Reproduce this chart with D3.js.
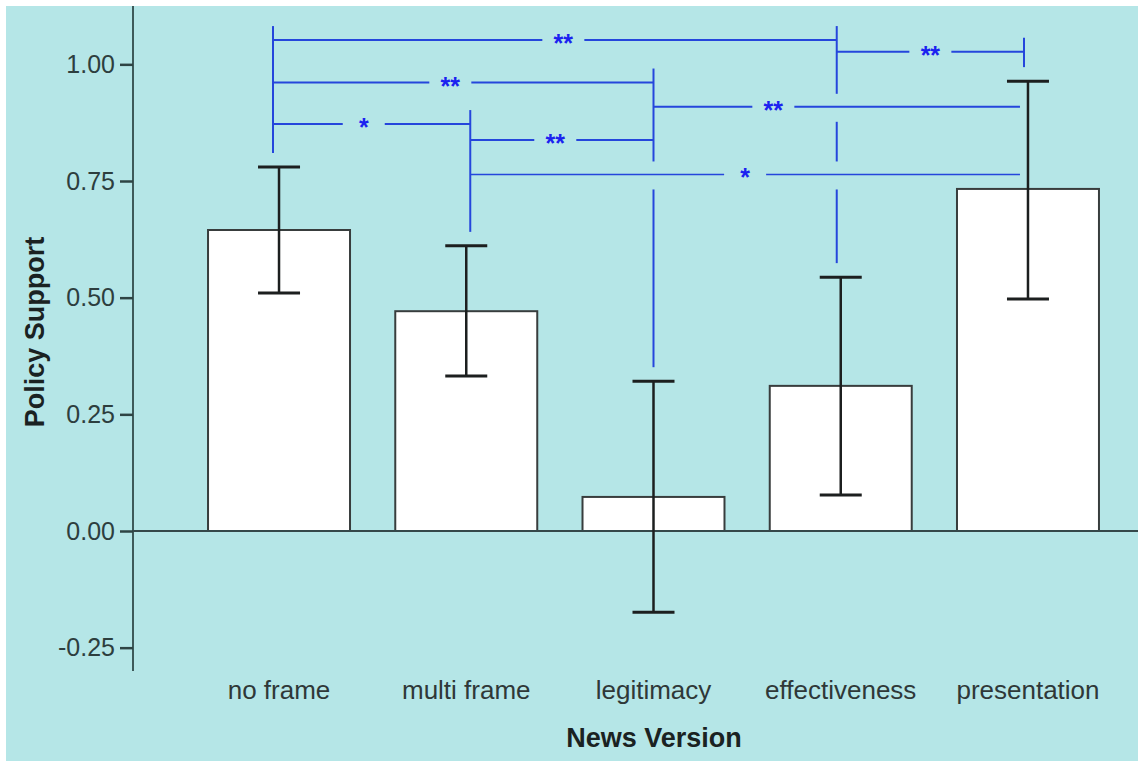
<!DOCTYPE html>
<html>
<head>
<meta charset="utf-8">
<script src="https://cdn.jsdelivr.net/npm/d3@7"></script>
<style>
  body { margin: 0; background: #fff; }
  text { font-family: "Liberation Sans", Arial, sans-serif; }
</style>
</head>
<body>
<script>

// chart data
var categories = ["no frame", "multi frame", "legitimacy", "effectiveness", "presentation"];
var means = [0.645, 0.471, 0.073, 0.311, 0.733];
var ciLow = [0.510, 0.332, -0.174, 0.077, 0.497];
var ciHigh = [0.780, 0.611, 0.321, 0.544, 0.964];
var yTicks = [-0.25, 0, 0.25, 0.5, 0.75, 1.0];

// pairwise comparisons: [from, to, level (y value), label]
var pairFrom = ["no frame", "effectiveness", "no frame", "legitimacy", "no frame", "multi frame", "multi frame"];
var pairTo = ["effectiveness", "presentation", "legitimacy", "presentation", "multi frame", "legitimacy", "presentation"];
var pairLevel = [1.052, 1.027, 0.961, 0.909, 0.872, 0.838, 0.764];
var pairLabel = ["**", "**", "**", "**", "*", "**", "*"];

// where the star sits along each bracket (0 = left end, 1 = right end)
var labelAt = [0.515, 0.5, 0.466, 0.327, 0.46, 0.464, 0.5];
// small nudges of the bracket stems relative to bar centers
var stemShift = [-6, 4, 0, -4, -4];

var svgWidth = 1138;
var svgHeight = 761;

var svg = d3.select("body")
  .append("svg")
  .attr("width", svgWidth)
  .attr("height", svgHeight);

// cyan panel
svg.append("rect")
  .attr("x", 6)
  .attr("y", 6)
  .attr("width", svgWidth - 6)
  .attr("height", svgHeight - 6)
  .attr("fill", "#b5e6e7");

var axisX = 133;

var yScale = d3.scaleLinear()
  .domain([-0.3, 1.125])
  .range([671, 6]);

var xScale = d3.scaleBand()
  .domain(categories)
  .range([185.4, 1121.6])
  .paddingInner(0.2417)
  .paddingOuter(0.12085);

var center = function(c) { return xScale(c) + xScale.bandwidth() / 2; };
var stemX = function(c) { return center(c) + stemShift[categories.indexOf(c)]; };

// y axis
var leftAxis = d3.axisLeft(yScale)
  .tickValues(yTicks)
  .tickFormat(d => d3.format(".2f")(d).replace("\u2212", "-"))
  .tickSize(13)
  .tickPadding(5);

var yAxis = svg.append("g")
  .attr("transform", `translate(${axisX}, 0)`)
  .call(leftAxis);

yAxis.select(".domain")
  .attr("d", `M0,${yScale.range()[0]}V${yScale.range()[1]}`)
  .attr("stroke", "#3e5a5a")
  .attr("stroke-width", 2);

yAxis.selectAll(".tick line")
  .attr("stroke", "#2e4444")
  .attr("stroke-width", 2.5);

yAxis.selectAll(".tick text")
  .attr("font-size", "25px")
  .attr("fill", "#2d3e3e")
  .attr("font-family", "Liberation Sans, Arial, sans-serif");

// bars
svg.selectAll(".bar")
  .data(categories)
  .enter()
  .append("rect")
  .attr("class", "bar")
  .attr("x", d => xScale(d))
  .attr("width", xScale.bandwidth())
  .attr("y", (d, i) => yScale(Math.max(0, means[i])))
  .attr("height", (d, i) => Math.abs(yScale(means[i]) - yScale(0)))
  .attr("fill", "#ffffff")
  .attr("stroke", "#383d3d")
  .attr("stroke-width", 2);

// zero line
svg.append("line")
  .attr("x1", axisX)
  .attr("x2", svgWidth)
  .attr("y1", yScale(0))
  .attr("y2", yScale(0))
  .attr("stroke", "#35484a")
  .attr("stroke-width", 2);

// error bars
var capHalf = 21;
var errGroup = svg.append("g");

errGroup.selectAll(".err")
  .data(categories)
  .enter()
  .append("line")
  .attr("x1", d => center(d))
  .attr("x2", d => center(d))
  .attr("y1", (d, i) => yScale(ciLow[i]))
  .attr("y2", (d, i) => yScale(ciHigh[i]))
  .attr("stroke", "#1c1f1f")
  .attr("stroke-width", 2.5);

errGroup.selectAll(".capTop")
  .data(categories)
  .enter()
  .append("line")
  .attr("x1", d => center(d) - capHalf)
  .attr("x2", d => center(d) + capHalf)
  .attr("y1", (d, i) => yScale(ciHigh[i]))
  .attr("y2", (d, i) => yScale(ciHigh[i]))
  .attr("stroke", "#1c1f1f")
  .attr("stroke-width", 3);

errGroup.selectAll(".capBottom")
  .data(categories)
  .enter()
  .append("line")
  .attr("x1", d => center(d) - capHalf)
  .attr("x2", d => center(d) + capHalf)
  .attr("y1", (d, i) => yScale(ciLow[i]))
  .attr("y2", (d, i) => yScale(ciLow[i]))
  .attr("stroke", "#1c1f1f")
  .attr("stroke-width", 3);

// significance brackets
var blue = "#2546dc";
var sigGroup = svg.append("g");
var gap = 14;

// stems: one per category, from above its top bracket down to above its error bar,
// broken wherever another bracket passes across it
categories.forEach(function(c, i) {
  var levels = [];
  pairFrom.forEach(function(f, k) {
    if (f === c || pairTo[k] === c) levels.push(yScale(pairLevel[k]));
  });
  if (levels.length === 0) return;
  var top = d3.min(levels) - gap;
  var bottom = yScale(ciHigh[i]) - gap;
  var sx = stemX(c);

  // crossings by brackets that span over this stem
  var cuts = [];
  pairFrom.forEach(function(f, k) {
    var a = stemX(f), b = stemX(pairTo[k]);
    var ly = yScale(pairLevel[k]);
    if (a < sx && b > sx && ly > top && ly < bottom) cuts.push(ly);
  });
  cuts.sort((p, q) => p - q);

  var segs = [];
  var start = top;
  cuts.forEach(function(cy) {
    segs.push([start, cy - 13]);
    start = cy + 15;
  });
  segs.push([start, bottom]);

  sigGroup.selectAll(null)
    .data(segs)
    .enter()
    .append("line")
    .attr("x1", sx)
    .attr("x2", sx)
    .attr("y1", d => d[0])
    .attr("y2", d => d[1])
    .attr("stroke", blue)
    .attr("stroke-width", 2);
});

// horizontal pieces with a gap for the stars
var labelGap = 21;
pairFrom.forEach(function(f, k) {
  var t = pairTo[k];
  var a = stemX(f), b = stemX(t);
  var ly = yScale(pairLevel[k]);
  // stop short when the right stem does not reach this level
  var ti = categories.indexOf(t);
  if (ly > yScale(ciHigh[ti]) - gap) b -= 4;
  var lx = a + (b - a) * labelAt[k];

  sigGroup.append("line")
    .attr("x1", a)
    .attr("x2", lx - labelGap)
    .attr("y1", ly)
    .attr("y2", ly)
    .attr("stroke", blue)
    .attr("stroke-width", k === 6 ? 1.4 : 2);

  sigGroup.append("line")
    .attr("x1", lx + labelGap)
    .attr("x2", b)
    .attr("y1", ly)
    .attr("y2", ly)
    .attr("stroke", blue)
    .attr("stroke-width", k === 6 ? 1.4 : 2);

  sigGroup.append("text")
    .attr("x", lx)
    .attr("y", ly + 12)
    .attr("text-anchor", "middle")
    .attr("font-size", "25px")
    .attr("font-weight", "bold")
    .attr("fill", "#1b22f0")
    .text(pairLabel[k]);
});

// category labels
svg.selectAll(".cat")
  .data(categories)
  .enter()
  .append("text")
  .attr("x", d => center(d))
  .attr("y", 699)
  .attr("text-anchor", "middle")
  .attr("font-size", "26px")
  .attr("fill", "#2f3838")
  .text(d => d);

// axis titles
svg.append("text")
  .attr("x", 654)
  .attr("y", 747)
  .attr("text-anchor", "middle")
  .attr("font-size", "27px")
  .attr("font-weight", "bold")
  .attr("fill", "#1a2222")
  .text("News Version");

svg.append("text")
  .attr("transform", "translate(44, 332) rotate(-90)")
  .attr("text-anchor", "middle")
  .attr("font-size", "27px")
  .attr("font-weight", "bold")
  .attr("fill", "#1a2222")
  .text("Policy Support");

</script>
</body>
</html>
